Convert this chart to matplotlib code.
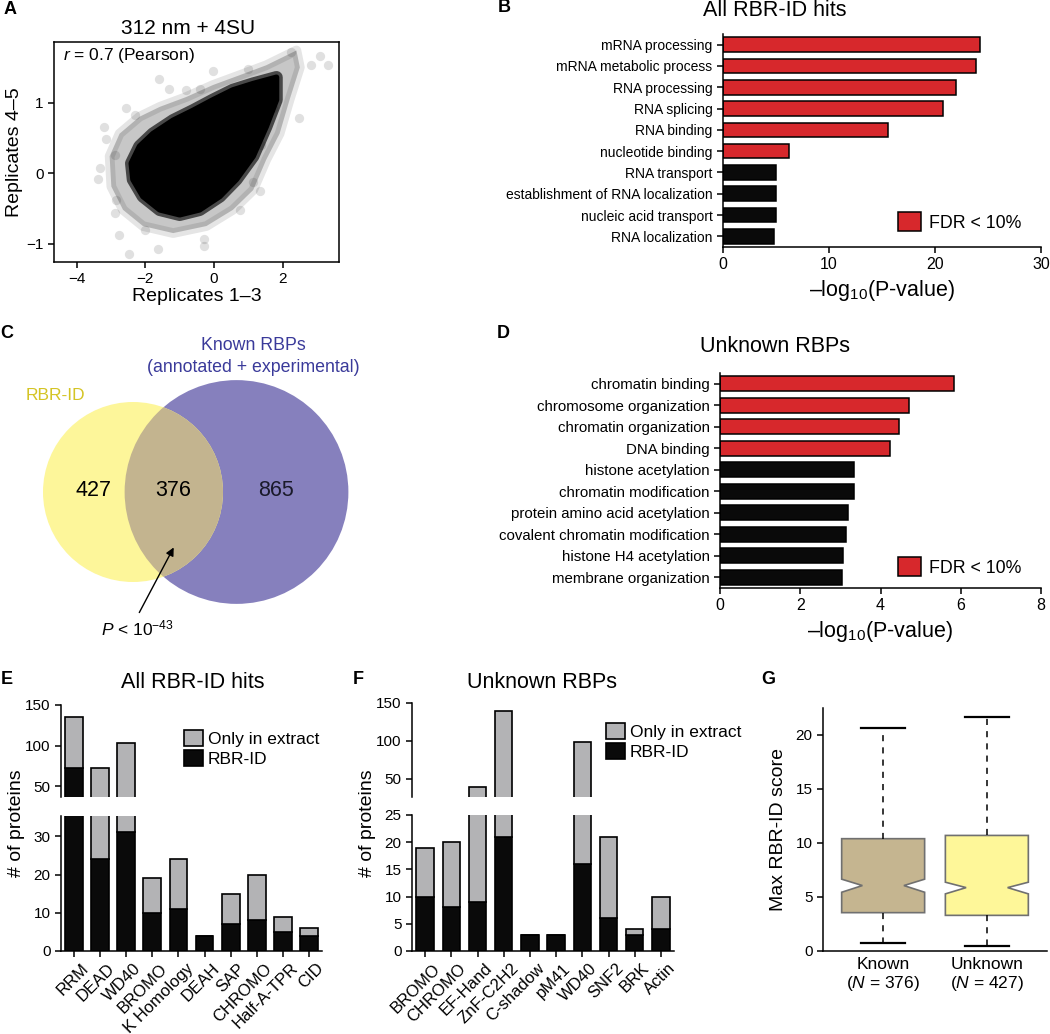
import numpy as np
import matplotlib
matplotlib.use('Agg')
from matplotlib import pyplot as plt
from matplotlib import patches as pat
from matplotlib import transforms as mtrans

W, H = 1050, 1034

plt.rcParams['font.family'] = ['Liberation Sans', 'DejaVu Sans']
plt.rcParams['mathtext.fontset'] = 'custom'
plt.rcParams['mathtext.rm'] = 'Liberation Sans'
plt.rcParams['mathtext.it'] = 'Liberation Sans:italic'
plt.rcParams['axes.linewidth'] = 1.1
plt.rcParams['xtick.major.width'] = 1.1
plt.rcParams['ytick.major.width'] = 1.1
plt.rcParams['xtick.major.size'] = 4
plt.rcParams['ytick.major.size'] = 4

# ---- A: replicate scatter (cloud outline + visible stray points)
cloud_core_x = [1.82, 1.14, 0.55, -0.03, -0.61, -1.19, -1.78, -2.17, -2.41, -2.36,
                -2.07, -1.58, -1.00, -0.42, 0.17, 0.65, 1.14, 1.52, 1.82]
cloud_core_y = [1.36, 1.27, 1.18, 1.04, 0.89, 0.75, 0.56, 0.38, 0.14, -0.09,
                -0.33, -0.52, -0.59, -0.52, -0.33, -0.09, 0.24, 0.66, 1.04]
cloud_halo_x = [2.40, 1.52, 0.75, -0.03, -0.81, -1.58, -2.17, -2.75, -3.04, -2.99,
                -2.65, -2.07, -1.19, -0.22, 0.55, 1.14, 1.52, 1.91, 2.20, 2.50]
cloud_halo_y = [1.74, 1.53, 1.39, 1.25, 1.08, 0.94, 0.80, 0.56, 0.24, -0.19,
                -0.52, -0.75, -0.85, -0.75, -0.52, -0.24, 0.19, 0.56, 1.04, 1.50]
stray_x = [-3.38, -3.20, -3.14, -2.55, -2.31, -1.60, -1.31, -2.49, -2.77, -1.63,
           -0.29, -0.30, -2.00, 3.08, 3.32, 2.47, 2.82, 2.25, -0.03, 0.99,
           1.38, 1.33, 1.14, 0.75, -2.89, -3.33, -2.89, -2.84, -0.81, -0.42, 1.72]
stray_y = [-0.08, 0.66, 0.49, 0.93, 0.82, 1.33, 1.20, -1.14, -0.88, -1.08,
           -0.94, -1.04, -0.80, 1.66, 1.54, 0.78, 1.53, 1.72, 1.45, 1.48,
           0.40, -0.26, -0.12, -0.52, 0.26, 0.07, -0.56, -0.38, 1.18, 1.20, 0.92]

# ---- B: GO terms, all hits
go_all_terms = ['mRNA processing', 'mRNA metabolic process', 'RNA processing',
                'RNA splicing', 'RNA binding', 'nucleotide binding', 'RNA transport',
                'establishment of RNA localization', 'nucleic acid transport',
                'RNA localization']
go_all_logp = [24.2, 23.9, 22.0, 20.8, 15.6, 6.2, 5.0, 5.0, 5.0, 4.8]
go_all_fdr = [True, True, True, True, True, True, False, False, False, False]

# ---- C: Venn counts
only_rbrid = 427
both = 376
only_known = 865

# ---- D: GO terms, unknown RBPs
go_unk_terms = ['chromatin binding', 'chromosome organization', 'chromatin organization',
                'DNA binding', 'histone acetylation', 'chromatin modification',
                'protein amino acid acetylation', 'covalent chromatin modification',
                'histone H4 acetylation', 'membrane organization']
go_unk_logp = [5.83, 4.72, 4.47, 4.24, 3.35, 3.33, 3.20, 3.15, 3.06, 3.04]
go_unk_fdr = [True, True, True, True, False, False, False, False, False, False]

# ---- E: domains, all hits
dom_all = ['RRM', 'DEAD', 'WD40', 'BROMO', 'K Homology', 'DEAH', 'SAP', 'CHROMO',
           'Half-A-TPR', 'CID']
dom_all_total = [135, 72, 103, 19, 24, 4, 15, 20, 9, 6]
dom_all_rbrid = [72, 24, 31, 10, 11, 4, 7, 8, 5, 4]

# ---- F: domains, unknown RBPs
dom_unk = ['BROMO', 'CHROMO', 'EF-Hand', 'ZnF-C2H2', 'C-shadow', 'pM41', 'WD40',
           'SNF2', 'BRK', 'Actin']
dom_unk_total = [19, 20, 39, 140, 3, 3, 99, 21, 4, 10]
dom_unk_rbrid = [10, 8, 9, 21, 3, 3, 16, 6, 3, 4]

# ---- G: score box stats
box_labels = ['Known\n($\\it{N}$ = 376)', 'Unknown\n($\\it{N}$ = 427)']
box_whislo = [0.77, 0.46]
box_q1 = [3.55, 3.30]
box_med = [6.06, 5.87]
box_q3 = [10.4, 10.7]
box_whishi = [20.65, 21.7]
box_cilo = [5.44, 5.29]
box_cihi = [6.65, 6.37]

RED = '#d7282c'
GRAY = '#b3b3b5'
BLK = '#0a0a0a'

fig = plt.figure(figsize=(W / 100, H / 100), dpi=100)


def px_axes(l, t, r, b):
    return fig.add_axes([l / W, 1 - b / H, (r - l) / W, (b - t) / H])


def ftext(x, y, s, **kw):
    return fig.text(x / W, 1 - y / H, s, **kw)


def clean(ax):
    ax.spines[['top', 'right']].set_visible(False)


# panel letters
for lab, x, y in [('A', 10, 10), ('B', 504, 8), ('C', 7, 333), ('D', 503, 333),
                  ('E', 7, 680), ('F', 358, 680), ('G', 768, 680)]:
    ftext(x, y, lab, fontsize=13, fontweight='bold', ha='center', va='center')

# ---------------- A
axA = px_axes(54, 42, 339, 262)
axA.fill(cloud_halo_x, cloud_halo_y, color='black', alpha=0.22, lw=0)
axA.fill(cloud_halo_x, cloud_halo_y, facecolor='none', edgecolor='black', alpha=0.1,
         lw=7, joinstyle='round')
axA.fill(cloud_core_x, cloud_core_y, facecolor='black', edgecolor='#3a3a3a', lw=9,
         joinstyle='round', alpha=0.9)
axA.fill(cloud_core_x, cloud_core_y, color='black', lw=4, joinstyle='round')
axA.scatter(stray_x, stray_y, s=45, color='black', alpha=0.12, lw=0)
axA.set_xlim(-4.66, 3.64)
axA.set_ylim(-1.26, 1.86)
axA.set_xticks([-4, -2, 0, 2], ['\u22124', '\u22122', '0', '2'])
axA.set_yticks([-1, 0, 1], ['\u22121', '0', '1'])
axA.tick_params(labelsize=11)
axA.set_xlabel('Replicates 1\u20133', fontsize=14, labelpad=1)
axA.set_ylabel('Replicates 4\u20135', fontsize=14, labelpad=2)
axA.text(0.03, 0.94, '$\\it{r}$ = 0.7 (Pearson)', transform=axA.transAxes,
         fontsize=12.5, va='center')
ftext(188, 28, '312 nm + 4SU', fontsize=15, ha='center', va='center')


# ---------------- B / D
def go_bars(ax, terms, vals, fdr, xmax, xticks, lab_size, leg_xy):
    y = np.arange(len(terms))
    cols = [RED if f else BLK for f in fdr]
    ax.barh(y, vals, height=0.69, color=cols, edgecolor='black', lw=1.1)
    ax.set_ylim(len(terms) - 0.5, -0.5)
    ax.set_xlim(0, xmax)
    ax.set_yticks(y, terms, fontsize=lab_size)
    ax.set_xticks(xticks)
    ax.tick_params(axis='x', labelsize=11.5)
    clean(ax)
    ax.set_xlabel('\u2013log$_{10}$(P-value)', fontsize=15.5, labelpad=4)
    ax.legend([pat.Patch(facecolor=RED, edgecolor='black', lw=1.1)], ['FDR < 10%'],
              loc='upper left', bbox_to_anchor=(leg_xy[0] / W, 1 - leg_xy[1] / H),
              bbox_transform=fig.transFigure, frameon=False, borderpad=0,
              handlelength=1.3, handleheight=1.3, handletextpad=0.45, fontsize=12.8)


axB = px_axes(723, 34, 1041, 247)
go_bars(axB, go_all_terms, go_all_logp, go_all_fdr, 30, [0, 10, 20, 30], 10, (889, 203))
ftext(775, 11, 'All RBR-ID hits', fontsize=15.5, ha='center', va='center')

axD = px_axes(720, 373, 1041, 588)
go_bars(axD, go_unk_terms, go_unk_logp, go_unk_fdr, 8, [0, 2, 4, 6, 8], 10.8, (889, 548))
ftext(775, 347, 'Unknown RBPs', fontsize=15.5, ha='center', va='center')

# ---------------- C: Venn, areas proportional to counts
axC = px_axes(0, 330, 380, 645)
axC.set_xlim(0, 380)
axC.set_ylim(645, 330)
axC.axis('off')
n_rbrid = only_rbrid + both
n_known = only_known + both
r1 = 90.0
r2 = r1 * np.sqrt(n_known / n_rbrid)
target = both * np.pi * r1 ** 2 / n_rbrid


def lens(d):
    a1 = r1 ** 2 * np.arccos((d ** 2 + r1 ** 2 - r2 ** 2) / (2 * d * r1))
    a2 = r2 ** 2 * np.arccos((d ** 2 + r2 ** 2 - r1 ** 2) / (2 * d * r2))
    k = 0.5 * np.sqrt((-d + r1 + r2) * (d + r1 - r2) * (d - r1 + r2) * (d + r1 + r2))
    return a1 + a2 - k


lo, hi = r2 - r1 + 1e-6, r1 + r2 - 1e-6
for _ in range(60):
    mid = 0.5 * (lo + hi)
    if lens(mid) > target:
        lo = mid
    else:
        hi = mid
d = 0.5 * (lo + hi)
c1 = (133.0, 492.0)
c2 = (133.0 + d, 492.0)
axC.add_patch(pat.Circle(c2, r2, facecolor='#8680bd', edgecolor='none'))
axC.add_patch(pat.Circle(c1, r1, facecolor='#fdf69a', edgecolor='none'))
clipc = pat.Circle(c2, r2, transform=axC.transData, facecolor='none', edgecolor='none')
ov = pat.Circle(c1, r1, facecolor='#c3b48f', edgecolor='none')
axC.add_patch(ov)
ov.set_clip_path(clipc)
axC.text(93, 490, str(only_rbrid), fontsize=15.5, ha='center', va='center')
axC.text(173, 490, str(both), fontsize=15.5, ha='center', va='center')
axC.text(276, 490, str(only_known), fontsize=15.5, ha='center', va='center', color='#1a1a2a')
axC.text(55, 396, 'RBR-ID', fontsize=12.5, ha='center', va='center', color='#d4c424')
axC.text(253, 345, 'Known RBPs', fontsize=12.8, ha='center', va='center', color='#3a3a9a')
axC.text(253, 367, '(annotated + experimental)', fontsize=12.8, ha='center',
         va='center', color='#3a3a9a')
axC.annotate('', xy=(175, 545), xytext=(138, 615),
             arrowprops=dict(arrowstyle='-|>', color='black', lw=1, mutation_scale=12))
axC.text(137, 628, '$\\it{P}$ < 10$^{-43}$', fontsize=12.5, ha='center', va='center')


# ---------------- E / F: broken-axis stacked bars
def broken_stack(ax_hi, ax_lo, names, total, rbrid, hi_lim, lo_lim, hi_ticks, lo_ticks,
                 width, leg_xy):
    x = np.arange(len(names))
    extract = np.array(total) - np.array(rbrid)
    for a in (ax_hi, ax_lo):
        a.bar(x, rbrid, width, color=BLK, edgecolor='black', lw=1.2)
        a.bar(x, extract, width, bottom=rbrid, color=GRAY, edgecolor='black', lw=1.2)
        a.set_xlim(-0.5, len(names) - 0.5)
        clean(a)
        a.tick_params(axis='y', labelsize=11)
    ax_hi.set_ylim(*hi_lim)
    ax_lo.set_ylim(*lo_lim)
    ax_hi.spines['bottom'].set_visible(False)
    ax_hi.tick_params(axis='x', bottom=False, labelbottom=False)
    ax_hi.set_yticks(hi_ticks)
    ax_lo.set_yticks(lo_ticks)
    ax_lo.set_xticks(x, names, rotation=45, ha='right', va='top',
                     rotation_mode='anchor', fontsize=12)
    ax_lo.tick_params(axis='x', pad=3)
    shift = mtrans.ScaledTranslation(7 / 100, 0, fig.dpi_scale_trans)
    for t in ax_lo.get_xticklabels():
        t.set_transform(t.get_transform() + shift)
    ax_hi.legend([pat.Patch(facecolor=GRAY, edgecolor='black', lw=1.2),
                  pat.Patch(facecolor=BLK, edgecolor='black', lw=1.2)],
                 ['Only in extract', 'RBR-ID'], loc='upper left',
                 bbox_to_anchor=(leg_xy[0] / W, 1 - leg_xy[1] / H),
                 bbox_transform=fig.transFigure, frameon=False, borderpad=0,
                 handlelength=1.1, handleheight=1.1, handletextpad=0.3,
                 labelspacing=0.15, fontsize=12.5)


axEh = px_axes(61, 705, 322, 797)
axEl = px_axes(61, 816, 322, 951)
broken_stack(axEh, axEl, dom_all, dom_all_total, dom_all_rbrid, (36.5, 150), (0, 35.3),
             [50, 100, 150], [0, 10, 20, 30], 0.68, (175, 721))
ftext(17, 823, '# of proteins', fontsize=14, rotation=90, ha='center', va='center')
ftext(193, 683, 'All RBR-ID hits', fontsize=15.5, ha='center', va='center')

axFh = px_axes(412, 703, 674, 797)
axFl = px_axes(412, 815, 674, 951)
broken_stack(axFh, axFl, dom_unk, dom_unk_total, dom_unk_rbrid, (25.5, 150), (0, 25),
             [50, 100, 150], [0, 5, 10, 15, 20, 25], 0.66, (597, 714))
ftext(368, 823, '# of proteins', fontsize=14, rotation=90, ha='center', va='center')
ftext(542, 683, 'Unknown RBPs', fontsize=15.5, ha='center', va='center')

# ---------------- G: notched boxes
axG = px_axes(823, 708, 1047, 951)
stats = []
for i in range(2):
    stats.append(dict(med=box_med[i], q1=box_q1[i], q3=box_q3[i], whislo=box_whislo[i],
                      whishi=box_whishi[i], cilo=box_cilo[i], cihi=box_cihi[i],
                      fliers=[], label=box_labels[i]))
bp = axG.bxp(stats, positions=[1, 2], widths=0.8, shownotches=True, patch_artist=True,
             showfliers=False, capwidths=0.42,
             boxprops=dict(edgecolor='#707070', linewidth=1.2),
             whiskerprops=dict(color='black', linewidth=1.1, linestyle=(0, (4, 4))),
             capprops=dict(color='black', linewidth=1.6),
             medianprops=dict(linewidth=0))
for b, c in zip(bp['boxes'], ['#c5b590', '#fef799']):
    b.set_facecolor(c)
axG.set_xlim(0.42, 2.58)
axG.set_ylim(0, 22.5)
axG.set_yticks([0, 5, 10, 15, 20])
axG.tick_params(axis='y', labelsize=11)
axG.tick_params(axis='x', length=0, labelsize=12.5, pad=4)
clean(axG)
axG.set_ylabel('Max RBR-ID score', fontsize=14, labelpad=6)

plt.savefig('out.png', dpi=100)
